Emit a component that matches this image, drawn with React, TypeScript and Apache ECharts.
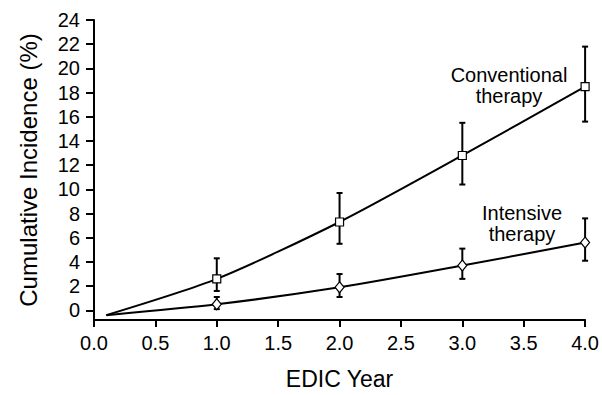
import React, { useEffect, useRef } from "react";
import * as echarts from "echarts";

const yTicks = [0, 2, 4, 6, 8, 10, 12, 14, 16, 18, 20, 22, 24];
const convX = [0.1, 1, 2, 3, 4];
const convY = [-0.4, 2.6, 7.3, 12.8, 18.5];
const convLow = [null, 1.6, 5.5, 10.4, 15.6];
const convHigh = [null, 4.3, 9.7, 15.5, 21.8];
const intX = [0.1, 1, 2, 3, 4];
const intY = [-0.4, 0.5, 1.9, 3.7, 5.6];
const intLow = [null, 0.1, 1.1, 2.6, 4.1];
const intHigh = [null, 1.1, 3.0, 5.1, 7.6];

const FONT = "Liberation Sans, Arial, Helvetica, sans-serif";

function lineData(xs: number[], ys: number[]) {
  return xs.map((x, i) =>
    i === 0 ? { value: [x, ys[i]], symbol: "none" } : { value: [x, ys[i]] }
  );
}

function errData(xs: number[], lo: (number | null)[], hi: (number | null)[]) {
  const out: number[][] = [];
  xs.forEach((x, i) => {
    if (lo[i] !== null && hi[i] !== null) out.push([x, lo[i] as number, hi[i] as number]);
  });
  return out;
}

function renderErr(params: any, api: any) {
  const x = api.value(0);
  const lo = api.coord([x, api.value(1)]);
  const hi = api.coord([x, api.value(2)]);
  const cap = 3;
  const style = { stroke: "#000", lineWidth: 2 };
  return {
    type: "group",
    children: [
      { type: "line", shape: { x1: lo[0], y1: lo[1], x2: hi[0], y2: hi[1] }, style },
      { type: "line", shape: { x1: lo[0] - cap, y1: lo[1], x2: lo[0] + cap, y2: lo[1] }, style },
      { type: "line", shape: { x1: hi[0] - cap, y1: hi[1], x2: hi[0] + cap, y2: hi[1] }, style },
    ],
  };
}

export default function App() {
  const ref = useRef<HTMLDivElement>(null);
  useEffect(() => {
    document.body.style.margin = "0";
    if (!ref.current) return;
    const chart = echarts.init(ref.current, null, { renderer: "svg" });
    chart.setOption({
      animation: false,
      textStyle: { fontFamily: FONT },
      grid: { left: 94, right: 15, top: 20, bottom: 70, containLabel: false },
      xAxis: {
        type: "value",
        min: 0,
        max: 4,
        interval: 0.5,
        name: "EDIC Year",
        nameLocation: "middle",
        nameGap: 47,
        nameTextStyle: { fontSize: 23, color: "#000", fontFamily: FONT },
        axisLine: { onZero: false, lineStyle: { color: "#000", width: 2 } },
        axisTick: { show: true, length: 7, lineStyle: { color: "#000", width: 2 } },
        axisLabel: {
          color: "#000",
          fontSize: 20,
          margin: 13,
          fontFamily: FONT,
          formatter: (v: number) => v.toFixed(1),
        },
        splitLine: { show: false },
      },
      yAxis: {
        type: "value",
        min: -0.8,
        max: 24,
        name: "Cumulative Incidence (%)",
        nameLocation: "middle",
        nameGap: 54,
        nameTextStyle: { fontSize: 24, color: "#000", fontFamily: FONT },
        axisLine: { show: true, lineStyle: { color: "#000", width: 2 } },
        axisTick: {
          show: true,
          length: 8,
          customValues: yTicks,
          lineStyle: { color: "#000", width: 2 },
        },
        axisLabel: {
          color: "#000",
          fontSize: 20,
          margin: 14,
          fontFamily: FONT,
          customValues: yTicks,
        },
        splitLine: { show: false },
      },
      series: [
        {
          type: "custom",
          renderItem: renderErr,
          data: errData(convX, convLow, convHigh),
          z: 1,
        },
        {
          type: "custom",
          renderItem: renderErr,
          data: errData(intX, intLow, intHigh),
          z: 1,
        },
        {
          type: "line",
          data: lineData(convX, convY),
          smooth: 0.25,
          symbol: "rect",
          symbolSize: 8,
          lineStyle: { color: "#000", width: 2 },
          itemStyle: { color: "#fff", borderColor: "#000", borderWidth: 1.2 },
          z: 2,
        },
        {
          type: "line",
          data: lineData(intX, intY),
          smooth: 0.25,
          symbol: "diamond",
          symbolSize: [9, 11],
          lineStyle: { color: "#000", width: 2 },
          itemStyle: { color: "#fff", borderColor: "#000", borderWidth: 1.2 },
          z: 2,
        },
      ],
      graphic: [
        {
          type: "text",
          x: 509,
          y: 85,
          style: {
            text: "Conventional\ntherapy",
            fill: "#000",
            font: `20px ${FONT}`,
            textAlign: "center",
            textVerticalAlign: "middle",
            lineHeight: 21,
          },
        },
        {
          type: "text",
          x: 522,
          y: 223,
          style: {
            text: "Intensive\ntherapy",
            fill: "#000",
            font: `20px ${FONT}`,
            textAlign: "center",
            textVerticalAlign: "middle",
            lineHeight: 21,
          },
        },
      ],
    });
    return () => chart.dispose();
  }, []);
  return <div ref={ref} style={{ width: 602, height: 395 }} />;
}
